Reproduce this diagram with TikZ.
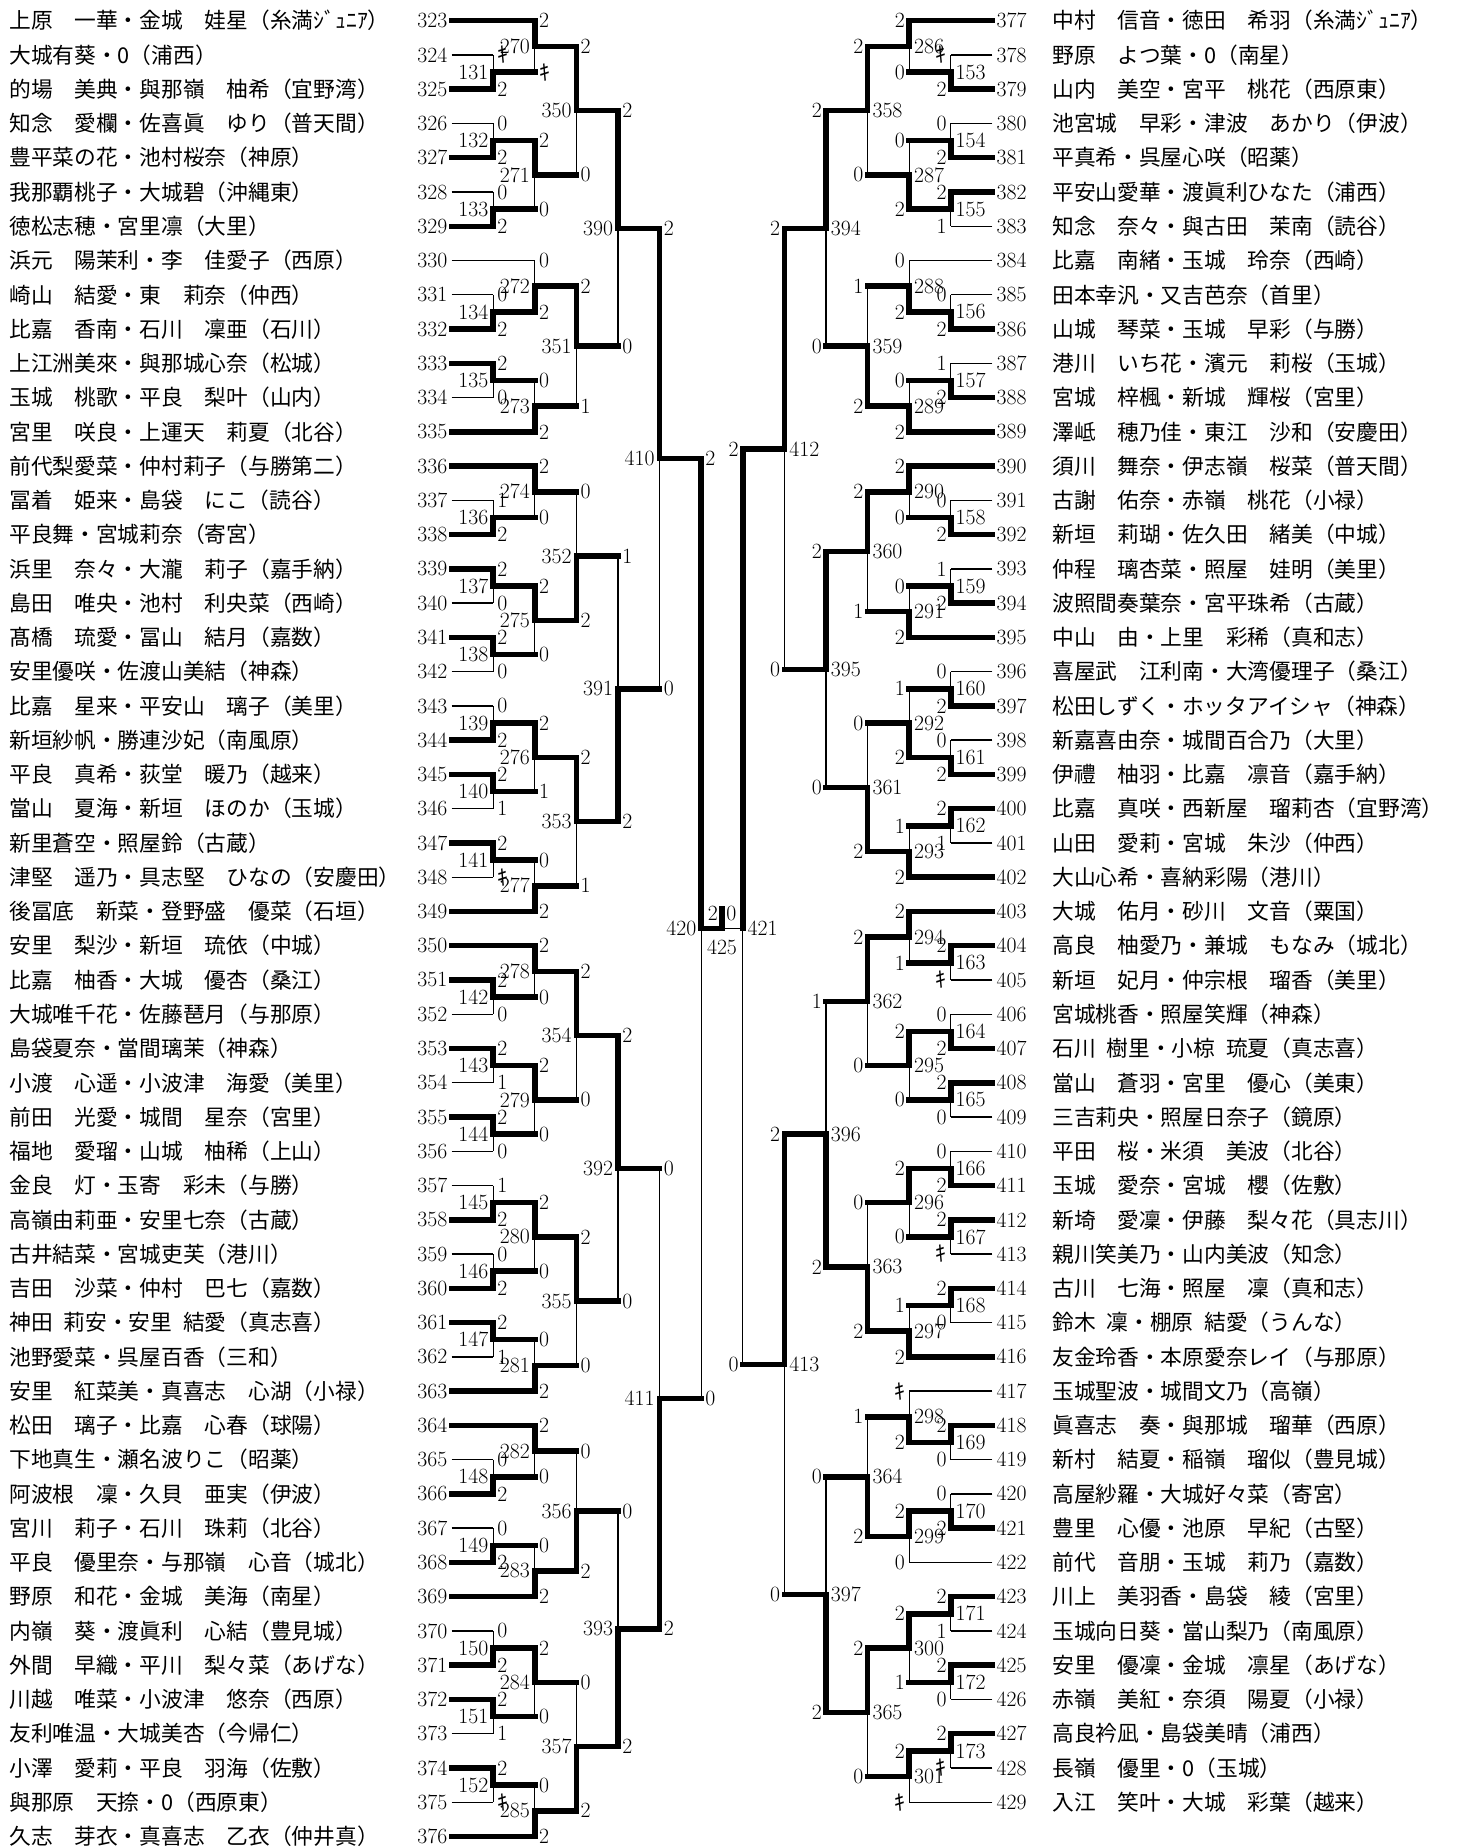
\documentclass[tikz,border=0pt]{standalone}
\usepackage{fontspec}
\usepackage{tikz}
\usetikzlibrary{calc}
\newfontfamily\jp{Noto Sans CJK JP}
\newcommand{\kiken}{{\jp ｷ}}
\def\bcx{722}\def\bcu{41.6}\def\bry{20.7}\def\brs{34.26}
% one match: column, number, inputs a/b, scores a/b, line styles a/b, winner
\newcommand{\bmatch}[9]{%
  \coordinate (mid#2) at ($(#3)!0.5!(#4)$);
  \coordinate (m#2) at (mid#2 -| #1);
  \draw[#7] (#3) -- (#3 -| m#2);
  \draw[#8] (#4) -- (#4 -| m#2);
  \draw[lose] (#3 -| m#2) -- (#4 -| m#2);
  \draw[win] (#9) -- (#9 -| m#2) -- (m#2);
  \node[score] (s#2a) at (#3 -| m#2) {#5};
  \node[score] (s#2b) at (#4 -| m#2) {#6};
  \node[matchno] (t#2) at (m#2) {#2};
}

\begin{document}
\begin{tikzpicture}[
    x=0.75pt, y=-0.75pt,
    font=\fontsize{16.3}{18}\selectfont,
    win/.style={line width=4.1pt,line cap=rect},
    lose/.style={line width=1pt},
    score/.style={inner sep=3pt},
    matchno/.style={inner sep=3.5pt},
    entryno/.style={inner sep=3pt},
    player/.style={anchor=west,inner sep=0pt,font=\jp\fontsize{16.3}{18}\selectfont},
    lside/.style={score/.append style={anchor=west},matchno/.append style={anchor=east}},
    rside/.style={score/.append style={anchor=east},matchno/.append style={anchor=west}}
  ]
    \path[use as bounding box,fill=white] (0,0) rectangle (1458,1847);

    \coordinate (C) at (\bcx,0);
    \foreach \j in {0,...,6} {
      \coordinate (L\j) at ({\bcx-\bcu*(6.5-\j)},0);
      \coordinate (R\j) at ({\bcx+\bcu*(6.5-\j)},0);
    }
    \foreach \i in {323,...,376} {
      \coordinate (e\i) at ({\bcx-\bcu*6.5},{\bry+\brs*(\i-323)});
      \node[entryno,anchor=east] (k\i) at (e\i) {\i};
    }
    \foreach \i in {377,...,429} {
      \coordinate (e\i) at ({\bcx+\bcu*6.5},{\bry+\brs*(\i-377)});
      \node[entryno,anchor=west] (k\i) at (e\i) {\i};
    }

    \foreach \i/\t in {323/上原　一華・金城　娃星（糸満ｼﾞｭﾆｱ）, 324/大城有葵・0（浦西）,
      325/的場　美典・與那嶺　柚希（宜野湾）, 326/知念　愛欄・佐喜眞　ゆり（普天間）,
      327/豊平菜の花・池村桜奈（神原）, 328/我那覇桃子・大城碧（沖縄東）,
      329/徳松志穂・宮里凛（大里）, 330/浜元　陽茉利・李　佳愛子（西原）,
      331/崎山　結愛・東　莉奈（仲西）, 332/比嘉　香南・石川　凜亜（石川）,
      333/上江洲美來・與那城心奈（松城）, 334/玉城　桃歌・平良　梨叶（山内）,
      335/宮里　咲良・上運天　莉夏（北谷）, 336/前代梨愛菜・仲村莉子（与勝第二）,
      337/冨着　姫来・島袋　にこ（読谷）, 338/平良舞・宮城莉奈（寄宮）,
      339/浜里　奈々・大瀧　莉子（嘉手納）, 340/島田　唯央・池村　利央菜（西崎）,
      341/髙橋　琉愛・冨山　結月（嘉数）, 342/安里優咲・佐渡山美結（神森）,
      343/比嘉　星来・平安山　璃子（美里）, 344/新垣紗帆・勝連沙妃（南風原）,
      345/平良　真希・荻堂　暖乃（越来）, 346/當山　夏海・新垣　ほのか（玉城）,
      347/新里蒼空・照屋鈴（古蔵）, 348/津堅　遥乃・具志堅　ひなの（安慶田）,
      349/後冨底　新菜・登野盛　優菜（石垣）, 350/安里　梨沙・新垣　琉依（中城）,
      351/比嘉　柚香・大城　優杏（桑江）, 352/大城唯千花・佐藤琶月（与那原）,
      353/島袋夏奈・當間璃茉（神森）, 354/小渡　心遥・小波津　海愛（美里）,
      355/前田　光愛・城間　星奈（宮里）, 356/福地　愛瑠・山城　柚稀（上山）,
      357/金良　灯・玉寄　彩未（与勝）, 358/高嶺由莉亜・安里七奈（古蔵）,
      359/古井結菜・宮城吏芙（港川）, 360/吉田　沙菜・仲村　巴七（嘉数）,
      361/神田\enspace 莉安・安里\enspace 結愛（真志喜）, 362/池野愛菜・呉屋百香（三和）,
      363/安里　紅菜美・真喜志　心湖（小禄）, 364/松田　璃子・比嘉　心春（球陽）,
      365/下地真生・瀬名波りこ（昭薬）, 366/阿波根　凜・久貝　亜実（伊波）,
      367/宮川　莉子・石川　珠莉（北谷）, 368/平良　優里奈・与那嶺　心音（城北）,
      369/野原　和花・金城　美海（南星）, 370/内嶺　葵・渡眞利　心結（豊見城）,
      371/外間　早織・平川　梨々菜（あげな）, 372/川越　唯菜・小波津　悠奈（西原）,
      373/友利唯温・大城美杏（今帰仁）, 374/小澤　愛莉・平良　羽海（佐敷）,
      375/與那原　天捺・0（西原東）, 376/久志　芽衣・真喜志　乙衣（仲井真）}
      \node[player] (n\i) at (9,{\bry+\brs*(\i-323)}) {\t};

    \foreach \i/\t in {377/中村　信音・徳田　希羽（糸満ｼﾞｭﾆｱ）, 378/野原　よつ葉・0（南星）,
      379/山内　美空・宮平　桃花（西原東）, 380/池宮城　早彩・津波　あかり（伊波）,
      381/平真希・呉屋心咲（昭薬）, 382/平安山愛華・渡眞利ひなた（浦西）,
      383/知念　奈々・與古田　茉南（読谷）, 384/比嘉　南緒・玉城　玲奈（西崎）,
      385/田本幸汎・又吉芭奈（首里）, 386/山城　琴菜・玉城　早彩（与勝）,
      387/港川　いち花・濱元　莉桜（玉城）, 388/宮城　梓楓・新城　輝桜（宮里）,
      389/澤岻　穂乃佳・東江　沙和（安慶田）, 390/須川　舞奈・伊志嶺　桜菜（普天間）,
      391/古謝　佑奈・赤嶺　桃花（小禄）, 392/新垣　莉瑚・佐久田　緒美（中城）,
      393/仲程　璃杏菜・照屋　娃明（美里）, 394/波照間奏葉奈・宮平珠希（古蔵）,
      395/中山　由・上里　彩稀（真和志）, 396/喜屋武　江利南・大湾優理子（桑江）,
      397/松田しずく・ホッタアイシャ（神森）, 398/新嘉喜由奈・城間百合乃（大里）,
      399/伊禮　柚羽・比嘉　凛音（嘉手納）, 400/比嘉　真咲・西新屋　瑠莉杏（宜野湾）,
      401/山田　愛莉・宮城　朱沙（仲西）, 402/大山心希・喜納彩陽（港川）,
      403/大城　佑月・砂川　文音（粟国）, 404/高良　柚愛乃・兼城　もなみ（城北）,
      405/新垣　妃月・仲宗根　瑠香（美里）, 406/宮城桃香・照屋笑輝（神森）,
      407/石川\enspace 樹里・小椋\enspace 琉夏（真志喜）, 408/當山　蒼羽・宮里　優心（美東）,
      409/三吉莉央・照屋日奈子（鏡原）, 410/平田　桜・米須　美波（北谷）,
      411/玉城　愛奈・宮城　櫻（佐敷）, 412/新埼　愛凜・伊藤　梨々花（具志川）,
      413/親川笑美乃・山内美波（知念）, 414/古川　七海・照屋　凜（真和志）,
      415/鈴木\enspace 凜・棚原\enspace 結愛（うんな）, 416/友金玲香・本原愛奈レイ（与那原）,
      417/玉城聖波・城間文乃（高嶺）, 418/眞喜志　奏・與那城　瑠華（西原）,
      419/新村　結夏・稲嶺　瑠似（豊見城）, 420/高屋紗羅・大城好々菜（寄宮）,
      421/豊里　心優・池原　早紀（古堅）, 422/前代　音朋・玉城　莉乃（嘉数）,
      423/川上　美羽香・島袋　綾（宮里）, 424/玉城向日葵・當山梨乃（南風原）,
      425/安里　優凜・金城　凛星（あげな）, 426/赤嶺　美紅・奈須　陽夏（小禄）,
      427/高良衿凪・島袋美晴（浦西）, 428/長嶺　優里・0（玉城）,
      429/入江　笑叶・大城　彩葉（越来）}
      \node[player] (n\i) at (1052,{\bry+\brs*(\i-377)}) {\t};

    \begin{scope}[lside]
    \bmatch{L1}{131}{e324}{e325}{\kiken}{2}{lose}{win}{e325}
    \bmatch{L1}{132}{e326}{e327}{0}{2}{lose}{win}{e327}
    \bmatch{L1}{133}{e328}{e329}{0}{2}{lose}{win}{e329}
    \bmatch{L1}{134}{e331}{e332}{0}{2}{lose}{win}{e332}
    \bmatch{L1}{135}{e333}{e334}{2}{0}{win}{lose}{e333}
    \bmatch{L1}{136}{e337}{e338}{1}{2}{lose}{win}{e338}
    \bmatch{L1}{137}{e339}{e340}{2}{0}{win}{lose}{e339}
    \bmatch{L1}{138}{e341}{e342}{2}{0}{win}{lose}{e341}
    \bmatch{L1}{139}{e343}{e344}{0}{2}{lose}{win}{e344}
    \bmatch{L1}{140}{e345}{e346}{2}{1}{win}{lose}{e345}
    \bmatch{L1}{141}{e347}{e348}{2}{\kiken}{win}{lose}{e347}
    \bmatch{L1}{142}{e351}{e352}{2}{0}{win}{lose}{e351}
    \bmatch{L1}{143}{e353}{e354}{2}{1}{win}{lose}{e353}
    \bmatch{L1}{144}{e355}{e356}{2}{0}{win}{lose}{e355}
    \bmatch{L1}{145}{e357}{e358}{1}{2}{lose}{win}{e358}
    \bmatch{L1}{146}{e359}{e360}{0}{2}{lose}{win}{e360}
    \bmatch{L1}{147}{e361}{e362}{2}{1}{win}{lose}{e361}
    \bmatch{L1}{148}{e365}{e366}{0}{2}{lose}{win}{e366}
    \bmatch{L1}{149}{e367}{e368}{0}{2}{lose}{win}{e368}
    \bmatch{L1}{150}{e370}{e371}{0}{2}{lose}{win}{e371}
    \bmatch{L1}{151}{e372}{e373}{2}{1}{win}{lose}{e372}
    \bmatch{L1}{152}{e374}{e375}{2}{\kiken}{win}{lose}{e374}

    \bmatch{L2}{270}{e323}{m131}{2}{\kiken}{win}{win}{e323}
    \bmatch{L2}{271}{m132}{m133}{2}{0}{win}{win}{m132}
    \bmatch{L2}{272}{e330}{m134}{0}{2}{lose}{win}{m134}
    \bmatch{L2}{273}{m135}{e335}{0}{2}{win}{win}{e335}
    \bmatch{L2}{274}{e336}{m136}{2}{0}{win}{win}{e336}
    \bmatch{L2}{275}{m137}{m138}{2}{0}{win}{win}{m137}
    \bmatch{L2}{276}{m139}{m140}{2}{1}{win}{win}{m139}
    \bmatch{L2}{277}{m141}{e349}{0}{2}{win}{win}{e349}
    \bmatch{L2}{278}{e350}{m142}{2}{0}{win}{win}{e350}
    \bmatch{L2}{279}{m143}{m144}{2}{0}{win}{win}{m143}
    \bmatch{L2}{280}{m145}{m146}{2}{0}{win}{win}{m145}
    \bmatch{L2}{281}{m147}{e363}{0}{2}{win}{win}{e363}
    \bmatch{L2}{282}{e364}{m148}{2}{0}{win}{win}{e364}
    \bmatch{L2}{283}{m149}{e369}{0}{2}{win}{win}{e369}
    \bmatch{L2}{284}{m150}{m151}{2}{0}{win}{win}{m150}
    \bmatch{L2}{285}{m152}{e376}{0}{2}{win}{win}{e376}

    \bmatch{L3}{350}{m270}{m271}{2}{0}{win}{win}{m270}
    \bmatch{L3}{351}{m272}{m273}{2}{1}{win}{win}{m272}
    \bmatch{L3}{352}{m274}{m275}{0}{2}{win}{win}{m275}
    \bmatch{L3}{353}{m276}{m277}{2}{1}{win}{win}{m276}
    \bmatch{L3}{354}{m278}{m279}{2}{0}{win}{win}{m278}
    \bmatch{L3}{355}{m280}{m281}{2}{0}{win}{win}{m280}
    \bmatch{L3}{356}{m282}{m283}{0}{2}{win}{win}{m283}
    \bmatch{L3}{357}{m284}{m285}{0}{2}{win}{win}{m285}

    \bmatch{L4}{390}{m350}{m351}{2}{0}{win}{win}{m350}
    \bmatch{L4}{391}{m352}{m353}{1}{2}{win}{win}{m353}
    \bmatch{L4}{392}{m354}{m355}{2}{0}{win}{win}{m354}
    \bmatch{L4}{393}{m356}{m357}{0}{2}{win}{win}{m357}

    \bmatch{L5}{410}{m390}{m391}{2}{0}{win}{win}{m390}
    \bmatch{L5}{411}{m392}{m393}{0}{2}{win}{win}{m393}

    \bmatch{L6}{420}{m410}{m411}{2}{0}{win}{win}{m410}
    \end{scope}

    \begin{scope}[rside]
    \bmatch{R1}{153}{e378}{e379}{\kiken}{2}{lose}{win}{e379}
    \bmatch{R1}{154}{e380}{e381}{0}{2}{lose}{win}{e381}
    \bmatch{R1}{155}{e382}{e383}{2}{1}{win}{lose}{e382}
    \bmatch{R1}{156}{e385}{e386}{0}{2}{lose}{win}{e386}
    \bmatch{R1}{157}{e387}{e388}{1}{2}{lose}{win}{e388}
    \bmatch{R1}{158}{e391}{e392}{0}{2}{lose}{win}{e392}
    \bmatch{R1}{159}{e393}{e394}{1}{2}{lose}{win}{e394}
    \bmatch{R1}{160}{e396}{e397}{0}{2}{lose}{win}{e397}
    \bmatch{R1}{161}{e398}{e399}{0}{2}{lose}{win}{e399}
    \bmatch{R1}{162}{e400}{e401}{2}{1}{win}{lose}{e400}
    \bmatch{R1}{163}{e404}{e405}{2}{\kiken}{win}{lose}{e404}
    \bmatch{R1}{164}{e406}{e407}{0}{2}{lose}{win}{e407}
    \bmatch{R1}{165}{e408}{e409}{2}{0}{win}{lose}{e408}
    \bmatch{R1}{166}{e410}{e411}{0}{2}{lose}{win}{e411}
    \bmatch{R1}{167}{e412}{e413}{2}{\kiken}{win}{lose}{e412}
    \bmatch{R1}{168}{e414}{e415}{2}{0}{win}{lose}{e414}
    \bmatch{R1}{169}{e418}{e419}{2}{0}{win}{lose}{e418}
    \bmatch{R1}{170}{e420}{e421}{0}{2}{lose}{win}{e421}
    \bmatch{R1}{171}{e423}{e424}{2}{1}{win}{lose}{e423}
    \bmatch{R1}{172}{e425}{e426}{2}{0}{win}{lose}{e425}
    \bmatch{R1}{173}{e427}{e428}{2}{\kiken}{win}{lose}{e427}

    \bmatch{R2}{286}{e377}{m153}{2}{0}{win}{win}{e377}
    \bmatch{R2}{287}{m154}{m155}{0}{2}{win}{win}{m155}
    \bmatch{R2}{288}{e384}{m156}{0}{2}{lose}{win}{m156}
    \bmatch{R2}{289}{m157}{e389}{0}{2}{win}{win}{e389}
    \bmatch{R2}{290}{e390}{m158}{2}{0}{win}{win}{e390}
    \bmatch{R2}{291}{m159}{e395}{0}{2}{win}{win}{e395}
    \bmatch{R2}{292}{m160}{m161}{1}{2}{win}{win}{m161}
    \bmatch{R2}{293}{m162}{e402}{1}{2}{win}{win}{e402}
    \bmatch{R2}{294}{e403}{m163}{2}{1}{win}{win}{e403}
    \bmatch{R2}{295}{m164}{m165}{2}{0}{win}{win}{m164}
    \bmatch{R2}{296}{m166}{m167}{2}{0}{win}{win}{m166}
    \bmatch{R2}{297}{m168}{e416}{1}{2}{win}{win}{e416}
    \bmatch{R2}{298}{e417}{m169}{\kiken}{2}{lose}{win}{m169}
    \bmatch{R2}{299}{m170}{e422}{2}{0}{win}{lose}{m170}
    \bmatch{R2}{300}{m171}{m172}{2}{1}{win}{win}{m171}
    \bmatch{R2}{301}{m173}{e429}{2}{\kiken}{win}{lose}{m173}

    \bmatch{R3}{358}{m286}{m287}{2}{0}{win}{win}{m286}
    \bmatch{R3}{359}{m288}{m289}{1}{2}{win}{win}{m289}
    \bmatch{R3}{360}{m290}{m291}{2}{1}{win}{win}{m290}
    \bmatch{R3}{361}{m292}{m293}{0}{2}{win}{win}{m293}
    \bmatch{R3}{362}{m294}{m295}{2}{0}{win}{win}{m294}
    \bmatch{R3}{363}{m296}{m297}{0}{2}{win}{win}{m297}
    \bmatch{R3}{364}{m298}{m299}{1}{2}{win}{win}{m299}
    \bmatch{R3}{365}{m300}{m301}{2}{0}{win}{win}{m300}

    \bmatch{R4}{394}{m358}{m359}{2}{0}{win}{win}{m358}
    \bmatch{R4}{395}{m360}{m361}{2}{0}{win}{win}{m360}
    \bmatch{R4}{396}{m362}{m363}{1}{2}{win}{win}{m363}
    \bmatch{R4}{397}{m364}{m365}{0}{2}{win}{win}{m365}

    \bmatch{R5}{412}{m394}{m395}{2}{0}{win}{win}{m394}
    \bmatch{R5}{413}{m396}{m397}{2}{0}{win}{win}{m396}

    \coordinate (m421) at (m420 -| R6);
    \draw[win] (m413) -- (m413 -| m421);
    \draw[lose] (m412 -| m421) -- (m413 -| m421);
    \draw[win] (m412) -- (m412 -| m421) -- (m421);
    \node[score] (s421a) at (m412 -| m421) {2};
    \node[score] (s421b) at (m413 -| m421) {0};
    \node[matchno] (t421) at (m421) {421};
    \end{scope}

    \coordinate (m425) at (m420 -| C);
    \coordinate (top425) at ($(m425)+(0,-20)$);
    \draw[lose] (m421) -- (m425);
    \draw[win] (m420) -- (m425) -- (top425);
    \node[score,anchor=east] (s425a) at ($(m425)+(0,-15)$) {2};
    \node[score,anchor=west] (s425b) at ($(m425)+(0,-15)$) {0};
    \node[matchno] (t425) at ($(m425)+(0,19)$) {425};
\end{tikzpicture}
\end{document}
